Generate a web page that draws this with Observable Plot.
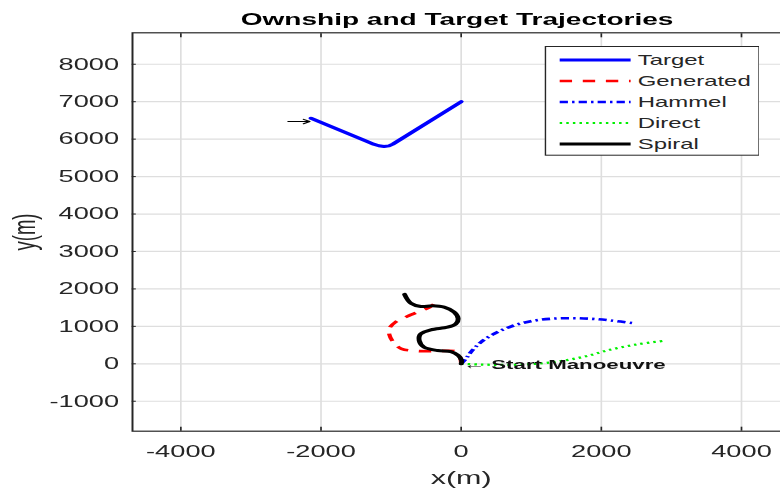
<!DOCTYPE html>
<html>
<head>
<meta charset="utf-8">
<script src="https://cdn.jsdelivr.net/npm/d3@7"></script>
<script src="https://cdn.jsdelivr.net/npm/@observablehq/plot@0.6"></script>
<style>
  html, body { margin: 0; padding: 0; background: #fff; overflow: hidden; width: 780px; height: 490px; }
  #wrap { position: relative; width: 485px; height: 490px; transform: scaleX(1.65); transform-origin: 0 0;
          font-family: "Liberation Sans", Arial, sans-serif; }
  #title { position: absolute; left: 78px; width: 398px; top: 10px; text-align: center; font-weight: bold;
           font-size: 17px; line-height: 20px; color: #000; }
  #chart { position: absolute; left: 0; top: 28px; }
  #chart g[aria-label="x-axis label"], #chart g[aria-label="y-axis label"] { font-size: 18.5px; }
  #legend { position: absolute; left: 329.6px; top: 46px; }
</style>
</head>
<body>
<div id="wrap">
  <div id="title">Ownship and Target Trajectories</div>
  <div id="chart"></div>
</div>
<script>
// Axis ticks
const xTicks = [-4000, -2000, 0, 2000, 4000];
const yTicks = [-1000, 0, 1000, 2000, 3000, 4000, 5000, 6000, 7000, 8000];

// Series names, in legend order
const seriesNames = ["Target", "Generated", "Hammel", "Direct", "Spiral"];

// Target track (m)
const targetX = [-2143, -1333, -1250, -1175, -1100, -1030, -975, 0];
const targetY = [6559, 5930, 5866, 5823, 5803, 5820, 5868, 7000];

// Ownship manoeuvres, all starting from the origin (m)
const generatedX = [0, -15, -80, -250, -450, -650, -850, -960, -1025, -1020, -940, -800, -620, -450, -385];
const generatedY = [0, 170, 330, 345, 335, 345, 400, 560, 780, 960, 1110, 1240, 1380, 1510, 1600];

const hammelX = [0, 67, 138, 281, 471, 709, 994, 1280, 1565, 1850, 2136, 2468];
const hammelY = [0, 134, 310, 577, 801, 996, 1138, 1202, 1218, 1202, 1157, 1084];

const directX = [0, 281, 609, 994, 1375, 1755, 2136, 2516, 2873];
const directY = [0, -20, -30, -10, 60, 190, 380, 520, 610];

const spiralX = [0, 6, -43, -147, -337, -528, -599, -575, -432, -194, -76, -43, -100, -243, -408, -575, -718, -808];
const spiralY = [0, 88, 222, 328, 355, 443, 622, 801, 908, 978, 1068, 1202, 1378, 1512, 1549, 1530, 1620, 1855];

// Arrow marking where the target track begins
const targetArrow = [{x1: -2470, y1: 6470, x2: -2160, y2: 6470}];
// Annotation at the manoeuvre start
const startNote = [{x: 0, y: 0, text: "\u2190 Start Manoeuvre"}];

const pts = (xs, ys) => xs.map((x, i) => ({x, y: ys[i]}));
const tracks = {
  Target: pts(targetX, targetY),
  Generated: pts(generatedX, generatedY),
  Hammel: pts(hammelX, hammelY),
  Direct: pts(directX, directY),
  Spiral: pts(spiralX, spiralY)
};

const styles = {
  Target:    {stroke: "#0000ff", strokeWidth: 3,   strokeDasharray: null},
  Generated: {stroke: "#ff0000", strokeWidth: 2.6, strokeDasharray: "7.5,6.5"},
  Hammel:    {stroke: "#0000ff", strokeWidth: 2.6, strokeDasharray: "5,2.5,1.5,2.5"},
  Direct:    {stroke: "#00f000", strokeWidth: 2.2, strokeDasharray: "1.5,2.5"},
  Spiral:    {stroke: "#000000", strokeWidth: 3,   strokeDasharray: null}
};

const fmt = d => String(d);
const axisColor = "#262626";

const lineMarks = seriesNames.map(name => Plot.line(tracks[name], {
  x: "x", y: "y",
  curve: name === "Target" ? "linear" : "catmull-rom",
  stroke: styles[name].stroke,
  strokeWidth: styles[name].strokeWidth,
  strokeDasharray: styles[name].strokeDasharray,
  strokeLinecap: styles[name].strokeDasharray ? "butt" : "round",
  strokeLinejoin: "round"
}));

const chart = Plot.plot({
  width: 485,
  height: 462,
  marginLeft: 79.8,
  marginRight: 6.8,
  marginTop: 4.3,
  marginBottom: 59.3,
  x: {domain: [-4690, 4690]},
  y: {domain: [-1800, 8840]},
  style: {fontFamily: "'Liberation Sans', Arial, sans-serif", fontSize: "16.5px", color: axisColor, background: "white", overflow: "visible"},
  marks: [
    Plot.gridX(xTicks, {stroke: "#dedede", strokeOpacity: 1, strokeWidth: 1}),
    Plot.gridY(yTicks, {stroke: "#dedede", strokeOpacity: 1, strokeWidth: 1.2}),
    ...lineMarks,
    Plot.arrow(targetArrow, {x1: "x1", y1: "y1", x2: "x2", y2: "y2", stroke: "#000", strokeWidth: 1, headLength: 7}),
    Plot.text(startNote, {x: "x", y: "y", text: "text", textAnchor: "start", dx: 1, dy: 1,
      fontWeight: "bold", fontSize: 13.5, fill: "#111"}),
    Plot.frame({stroke: axisColor, strokeWidth: 1.2}),
    Plot.axisX(xTicks, {anchor: "bottom", tickSize: -4, tickPadding: 18, tickFormat: fmt,
      label: "x(m)", labelAnchor: "center", labelOffset: 53, labelArrow: "none", stroke: axisColor}),
    Plot.axisX(xTicks, {anchor: "top", tickSize: -4, tickFormat: () => "", label: null, stroke: axisColor}),
    Plot.axisY(yTicks, {anchor: "left", tickSize: -2.5, tickPadding: 10.6, tickFormat: fmt,
      label: "y(m)", labelAnchor: "center", labelOffset: 72, labelArrow: "none", stroke: axisColor}),
    Plot.axisY(yTicks, {anchor: "right", tickSize: -2.5, tickFormat: () => "", label: null, stroke: axisColor})
  ]
});
document.getElementById("chart").appendChild(chart);

// Legend box with line samples
const legW = 130.6, legH = 109.7, rowY = [14, 35, 56, 77, 98];
const leg = d3.select("#wrap").append("svg").attr("id", "legend")
  .attr("width", legW).attr("height", legH);
leg.append("rect").attr("x", 0.5).attr("y", 0.5).attr("width", legW - 1).attr("height", legH - 1)
  .attr("fill", "#fff").attr("stroke", axisColor).attr("stroke-width", 1);
seriesNames.forEach((name, i) => {
  const s = styles[name];
  leg.append("line").attr("x1", 9.2).attr("x2", 52.2).attr("y1", rowY[i]).attr("y2", rowY[i])
    .attr("stroke", s.stroke).attr("stroke-width", s.strokeWidth)
    .attr("stroke-dasharray", s.strokeDasharray);
  leg.append("text").attr("x", 56.5).attr("y", rowY[i]).attr("dy", "0.36em")
    .attr("font-family", "'Liberation Sans', Arial, sans-serif").attr("font-size", 14.5)
    .attr("fill", axisColor).text(name);
});
</script>
</body>
</html>
